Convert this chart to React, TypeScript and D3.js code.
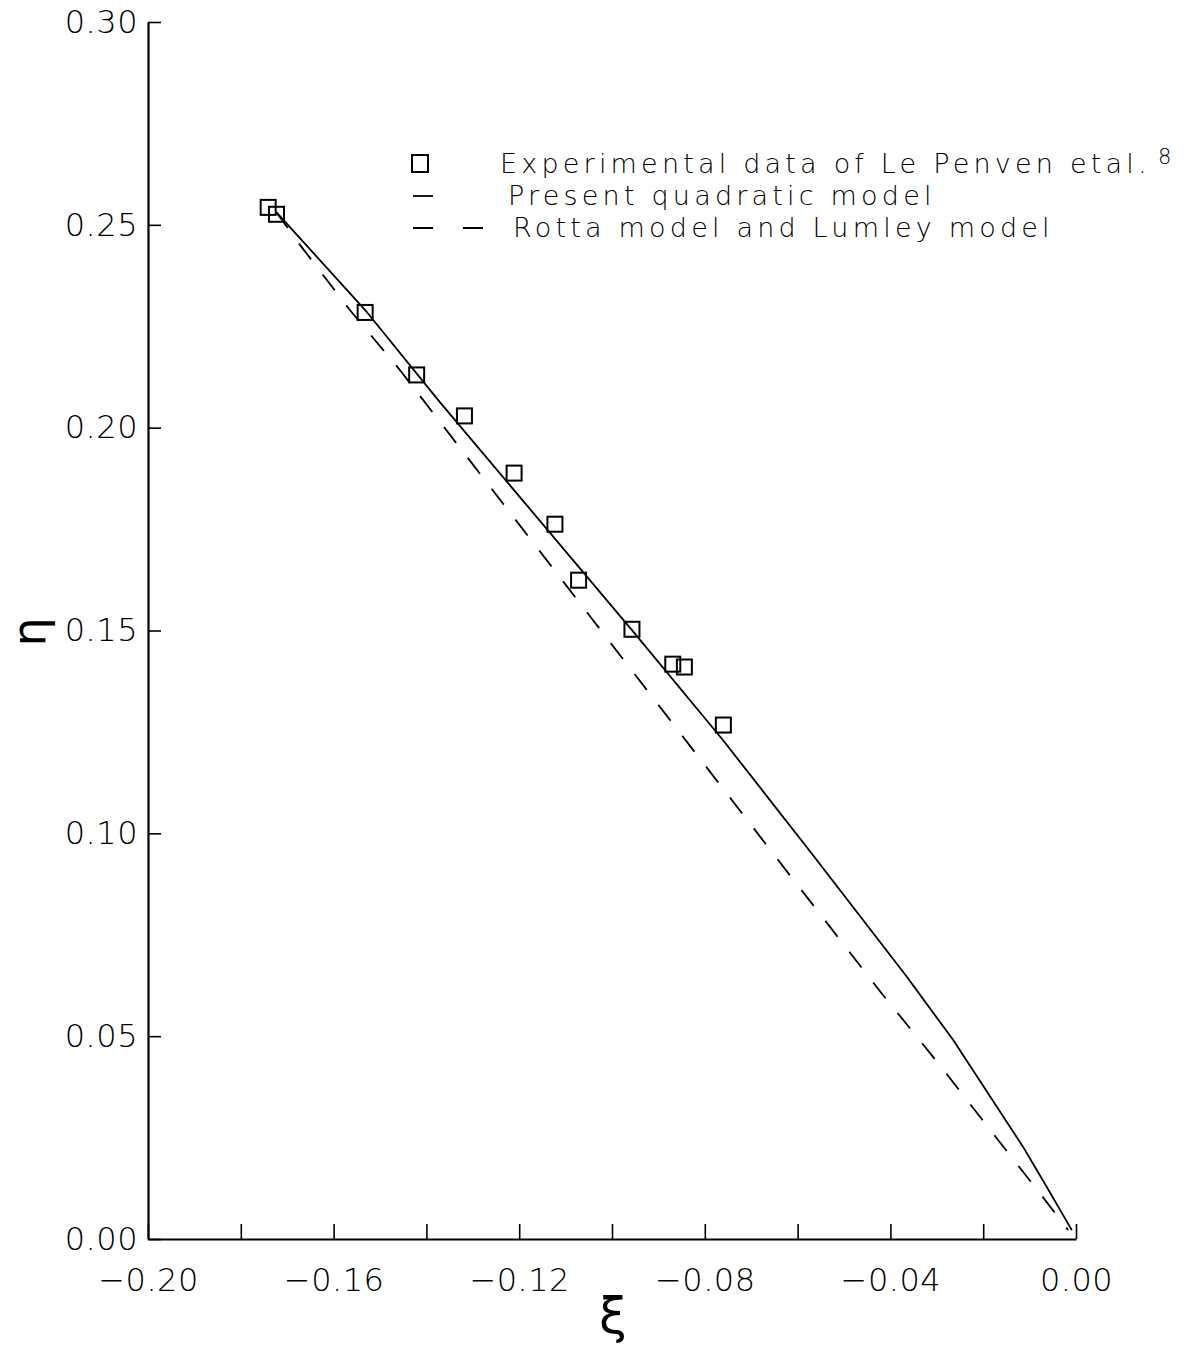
import React, { useEffect, useRef } from 'react';
import * as d3 from 'd3';

// experimental points (xi, eta)
const expXi = [-0.1741, -0.1723, -0.1532, -0.1421, -0.1318, -0.1211, -0.1123, -0.1072, -0.0957, -0.0869, -0.0844, -0.0760];
const expEta = [0.2543, 0.2526, 0.2284, 0.2130, 0.2029, 0.1888, 0.1762, 0.1624, 0.1503, 0.1417, 0.1410, 0.1267];

// present quadratic model
const quadXi = [-0.1724, -0.1532, -0.1371, -0.0957, -0.0761, -0.0570, -0.0365, -0.0265, -0.0114, -0.0063, -0.0013, -0.0009];
const quadEta = [0.2532, 0.2290, 0.2063, 0.1501, 0.1230, 0.0951, 0.0647, 0.0491, 0.0227, 0.0128, 0.0030, 0.0022];

// Rotta / Lumley model
const rottaXi = [-0.1724, -0.1672, -0.1565, -0.1457, -0.0789, -0.0631, -0.0422, -0.0289, -0.0185, -0.0078, -0.0017];
const rottaEta = [0.2532, 0.2450, 0.2290, 0.2142, 0.1152, 0.0918, 0.0610, 0.0422, 0.0269, 0.0113, 0.0022];

const xTicks = [-0.2, -0.18, -0.16, -0.14, -0.12, -0.1, -0.08, -0.06, -0.04, -0.02, 0];
const xLabels = ['\u22120.20', '', '\u22120.16', '', '\u22120.12', '', '\u22120.08', '', '\u22120.04', '', '0.00'];
const yTicks = [0, 0.05, 0.1, 0.15, 0.2, 0.25, 0.3];
const yLabels = ['0.00', '0.05', '0.10', '0.15', '0.20', '0.25', '0.30'];

const legendItems = [
  'Experimental data of Le Penven etal.',
  'Present quadratic model',
  'Rotta model and Lumley model',
];

const FONT = '"DejaVu Sans", sans-serif';

const App = () => {
  const ref = useRef<SVGSVGElement>(null);
  const width = 1204;
  const height = 1350;

  useEffect(() => {
    document.body.style.margin = '0';
    const svg = d3.select(ref.current);
    svg.selectAll('*').remove();

    const x = d3.scaleLinear().domain([-0.2, 0]).range([148, 1076]);
    const y = d3.scaleLinear().domain([0, 0.3]).range([1239, 22]);

    // x axis, ticks pointing up
    const xAxis = svg.append('g')
      .attr('transform', `translate(0, ${y(0)})`)
      .call(d3.axisBottom(x)
        .tickValues(xTicks)
        .tickFormat((d, i) => xLabels[i])
        .tickSizeInner(-15)
        .tickSizeOuter(0)
        .tickPadding(30));
    xAxis.select('.domain').attr('stroke-width', 2.2);
    xAxis.selectAll('.tick line').attr('stroke-width', 1.6);
    xAxis.selectAll('text')
      .style('font-family', FONT)
      .style('font-size', '32px')
      .style('font-weight', 300)
      .style('letter-spacing', '0.5px')
      .attr('dy', '0.35em')
      .attr('y', 41)
      .attr('fill', '#000');

    // y axis, ticks pointing right
    const yAxis = svg.append('g')
      .attr('transform', `translate(${x(-0.2)}, 0)`)
      .call(d3.axisLeft(y)
        .tickValues(yTicks)
        .tickFormat((d, i) => yLabels[i])
        .tickSizeInner(-13)
        .tickSizeOuter(0)
        .tickPadding(10));
    yAxis.select('.domain').attr('stroke-width', 2.2);
    yAxis.selectAll('.tick line').attr('stroke-width', 1.6);
    yAxis.selectAll('text')
      .style('font-family', FONT)
      .style('font-size', '32px')
      .style('font-weight', 300)
      .style('letter-spacing', '0.5px')
      .attr('fill', '#000');

    // axis titles
    svg.append('text')
      .attr('x', 613)
      .attr('y', 1333)
      .attr('text-anchor', 'middle')
      .style('font-family', FONT)
      .style('font-size', '50px')
      .text('ξ');

    svg.append('text')
      .attr('transform', 'translate(45, 632) rotate(-90)')
      .attr('text-anchor', 'middle')
      .style('font-family', FONT)
      .style('font-size', '46px')
      .text('η');

    const line = d3.line<[number, number]>()
      .x(d => x(d[0]))
      .y(d => y(d[1]));

    const quad = quadXi.map((v, i) => [v, quadEta[i]] as [number, number]);
    const rotta = rottaXi.map((v, i) => [v, rottaEta[i]] as [number, number]);

    svg.append('path')
      .datum(quad)
      .attr('d', line)
      .attr('fill', 'none')
      .attr('stroke', '#000')
      .attr('stroke-width', 1.8);

    svg.append('path')
      .datum(rotta)
      .attr('d', line)
      .attr('fill', 'none')
      .attr('stroke', '#000')
      .attr('stroke-width', 1.8)
      .attr('stroke-dasharray', '20 19');

    const sq = 15;
    svg.selectAll('.pt')
      .data(expXi)
      .enter().append('rect')
      .attr('class', 'pt')
      .attr('x', d => x(d) - sq / 2)
      .attr('y', (d, i) => y(expEta[i]) - sq / 2)
      .attr('width', sq)
      .attr('height', sq)
      .attr('fill', 'none')
      .attr('stroke', '#000')
      .attr('stroke-width', 2);

    // legend
    const textX = [500, 508, 513];
    const textY = [173, 205, 237];
    const lg = svg.append('g');
    lg.append('rect')
      .attr('x', 412).attr('y', textY[0] - 18).attr('width', 16).attr('height', 17)
      .attr('fill', 'none').attr('stroke', '#000').attr('stroke-width', 2);
    lg.append('line')
      .attr('x1', 413).attr('x2', 433).attr('y1', textY[1] - 9).attr('y2', textY[1] - 9)
      .attr('stroke', '#000').attr('stroke-width', 1.8);
    lg.append('line')
      .attr('x1', 413).attr('x2', 483).attr('y1', textY[2] - 9).attr('y2', textY[2] - 9)
      .attr('stroke', '#000').attr('stroke-width', 1.8)
      .attr('stroke-dasharray', '20 30');

    legendItems.forEach((t, i) => {
      lg.append('text')
        .attr('x', textX[i])
        .attr('y', textY[i])
        .style('font-family', FONT)
        .style('font-size', '27px')
        .style('font-weight', 300)
        .style('letter-spacing', '4.2px')
        .text(t);
    });
    lg.append('text')
      .attr('x', 1158)
      .attr('y', 164)
      .style('font-family', FONT)
      .style('font-size', '21px')
      .style('font-weight', 300)
      .text('8');
  }, []);

  return <svg ref={ref} width={width} height={height} style={{ display: 'block', background: '#fff' }}></svg>;
};

export default App;
